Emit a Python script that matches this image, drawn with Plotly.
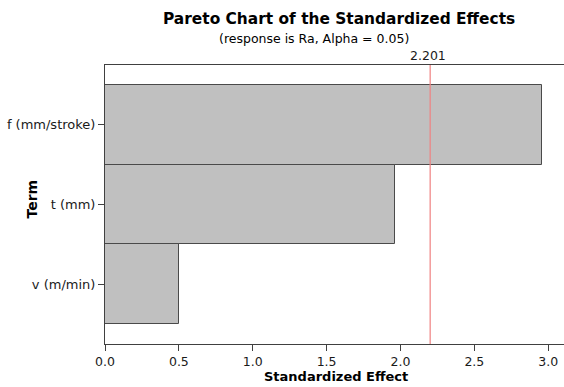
import plotly.graph_objects as go

terms = ["f (mm/stroke)", "t (mm)", "v (m/min)"]
effects = [2.955, 1.960, 0.499]
critical = 2.201
title = "Pareto Chart of the Standardized Effects"
subtitle = "(response is Ra, Alpha = 0.05)"
x_title = "Standardized Effect"
y_title = "Term"
x_ticks = [0.0, 0.5, 1.0, 1.5, 2.0, 2.5, 3.0]

FONT = "DejaVu Sans"
W, H = 564, 387
L, R, T, B = 105, 0, 65, 43
PW, PH = W - L - R, H - T - B


def px(x):
    return (x - L) / PW


def py(y):
    return (H - B - y) / PH


fig = go.Figure()
fig.add_trace(go.Bar(
    x=effects, y=terms, orientation="h",
    marker=dict(color="#c0c0c0", line=dict(color="#4a4a4a", width=1)),
    width=1.0,
))

fig.add_shape(type="line", xref="x", yref="paper", x0=critical, x1=critical,
              y0=0, y1=1, line=dict(color="#f08080", width=1.2), layer="above")

fig.add_annotation(text=f"{critical:.3f}", x=critical, xref="x", y=1, yref="paper",
                   yanchor="bottom", xanchor="center", showarrow=False, xshift=-2, yshift=0,
                   font=dict(family=FONT, size=12.5, color="#1a1a1a"))

fig.add_annotation(text=f"<b>{title}</b>", x=px(339), xref="paper", y=py(8), yref="paper",
                   showarrow=False, xanchor="center", yanchor="top",
                   font=dict(family=FONT, size=15.4, color="#000000"))
fig.add_annotation(text=subtitle, x=px(314), xref="paper", y=py(29), yref="paper",
                   showarrow=False, xanchor="center", yanchor="top",
                   font=dict(family=FONT, size=12.5, color="#000000"))
fig.add_annotation(text=f"<b>{x_title}</b>", x=px(336), xref="paper", y=py(367), yref="paper",
                   showarrow=False, xanchor="center", yanchor="top",
                   font=dict(family=FONT, size=13, color="#000000"))
fig.add_annotation(text=f"<b>{y_title}</b>", x=px(31.5), xref="paper", y=py(199), yref="paper",
                   showarrow=False, xanchor="center", yanchor="middle", textangle=-90,
                   font=dict(family=FONT, size=14, color="#000000"))

fig.update_layout(
    width=W, height=H,
    margin=dict(l=L, r=R, t=T, b=B, autoexpand=False),
    paper_bgcolor="white", plot_bgcolor="white",
    showlegend=False,
    bargap=0,
    font=dict(family=FONT, size=12.5, color="#1a1a1a"),
    xaxis=dict(range=[0, 3.107], tickvals=x_ticks, ticktext=[f"{v:.1f}" for v in x_ticks],
               showgrid=False, zeroline=False, showline=True, linecolor="#404040",
               linewidth=1, mirror=True, ticks="outside", ticklen=6, tickcolor="#404040",
               automargin=False, tickfont=dict(size=12.5)),
    yaxis=dict(range=[2.75, -0.75], showgrid=False, zeroline=False, showline=True,
               linecolor="#404040", linewidth=1, ticks="outside", ticklen=6,
               tickcolor="#404040", automargin=False, tickfont=dict(size=13)),
)

fig.write_html("out.html")
